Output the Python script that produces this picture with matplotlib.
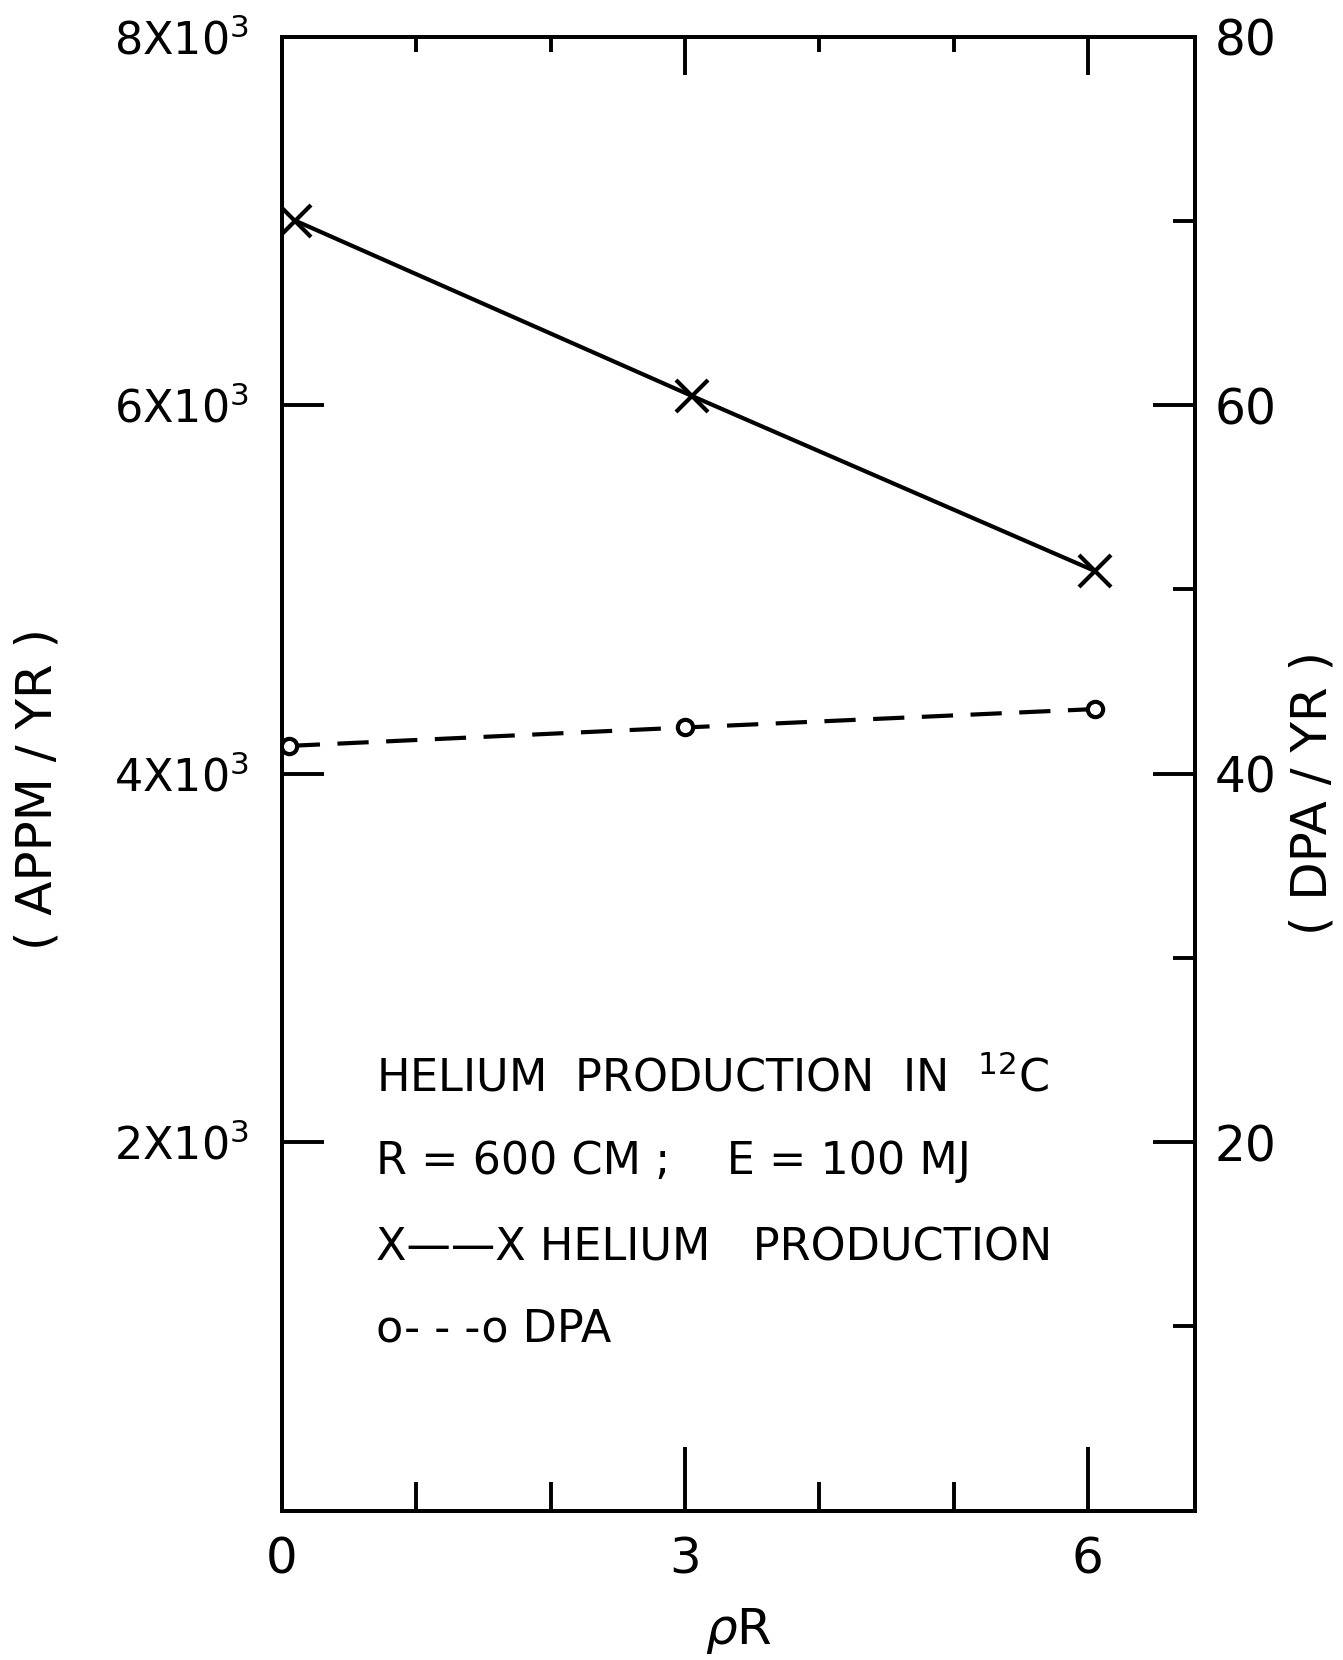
import matplotlib
matplotlib.use("Agg")
import matplotlib.pyplot as plt
from matplotlib.ticker import FixedLocator

# data
rhoR_he = [0.1, 3.05, 6.05]
helium = [7000, 6050, 5100]          # APPM / YR
rhoR_dpa = [0.05, 3.0, 6.05]
dpa = [41.5, 42.5, 43.5]             # DPA / YR

xticks = [0, 3, 6]
xminor = [1, 2, 4, 5]
yticks_left = [2000, 4000, 6000, 8000]
ylabels_left = [r"2X10$^3$", r"4X10$^3$", r"6X10$^3$", r"8X10$^3$"]
yticks_right = [20, 40, 60, 80]
yminor_right = [10, 30, 50, 70]

notes = [r"HELIUM  PRODUCTION  IN  $^{12}$C",
         "R = 600 CM ;    E = 100 MJ",
         "X\u2014\u2014X HELIUM   PRODUCTION",
         "o- - -o DPA"]
notes_y = [2345, 1895, 1425, 985]

plt.rcParams['font.family'] = ['DejaVu Sans']
LW = 2.8
DLW = 3.0   # data lines a bit heavier, as in the scan

fig = plt.figure(figsize=(13.43, 16.6), dpi=100)
ax = fig.add_axes([0.21, 0.09, 0.68, 0.888])

ax.plot(rhoR_he, helium, color='black', lw=DLW, marker='x', ms=23, mew=DLW)
ax.set_xlim(0, 6.8)
ax.set_ylim(0, 8000)

ax2 = ax.twinx()
ax2.plot(rhoR_dpa, dpa, color='black', lw=DLW, ls=(0, (7.5, 4.2)),
         marker='o', ms=11, mfc='white', mew=DLW)
ax2.set_ylim(0, 80)

for a in (ax, ax2):
    for s in a.spines.values():
        s.set_linewidth(LW)

ax.xaxis.set_major_locator(FixedLocator(xticks))
ax.xaxis.set_minor_locator(FixedLocator(xminor))
ax.set_xticklabels([str(v) for v in xticks])
ax.tick_params(axis='x', which='major', direction='in', length=46, width=LW,
               labelsize=36, pad=18)
ax.tick_params(axis='x', which='minor', direction='in', length=21, width=LW)

top = ax.secondary_xaxis('top')
top.xaxis.set_major_locator(FixedLocator(xticks))
top.xaxis.set_minor_locator(FixedLocator(xminor))
top.tick_params(which='major', direction='in', length=27, width=LW, labeltop=False)
top.tick_params(which='minor', direction='in', length=11, width=LW)
top.spines['top'].set_linewidth(LW)

ax.yaxis.set_major_locator(FixedLocator(yticks_left))
ax.set_yticklabels(ylabels_left)
ax.tick_params(axis='y', which='major', direction='in', length=30, width=LW,
               labelsize=32, pad=24)

ax2.yaxis.set_major_locator(FixedLocator(yticks_right))
ax2.yaxis.set_minor_locator(FixedLocator(yminor_right))
ax2.set_yticklabels([str(v) for v in yticks_right])
ax2.tick_params(axis='y', which='major', direction='in', length=30, width=LW,
                labelsize=35, pad=14)
ax2.tick_params(axis='y', which='minor', direction='in', length=16, width=LW)

ax.set_xlabel(r"$\rho$R", fontsize=36, labelpad=16)

fig.text(0.028, 0.525, "( APPM / YR )", rotation=90, fontsize=36,
         ha='center', va='center')
fig.text(0.977, 0.522, "( DPA / YR )", rotation=90, fontsize=36,
         ha='center', va='center')

for txt, yv in zip(notes, notes_y):
    ax.text(0.7, yv, txt, fontsize=32, ha='left', va='center')

fig.savefig("out.png", dpi=100)
